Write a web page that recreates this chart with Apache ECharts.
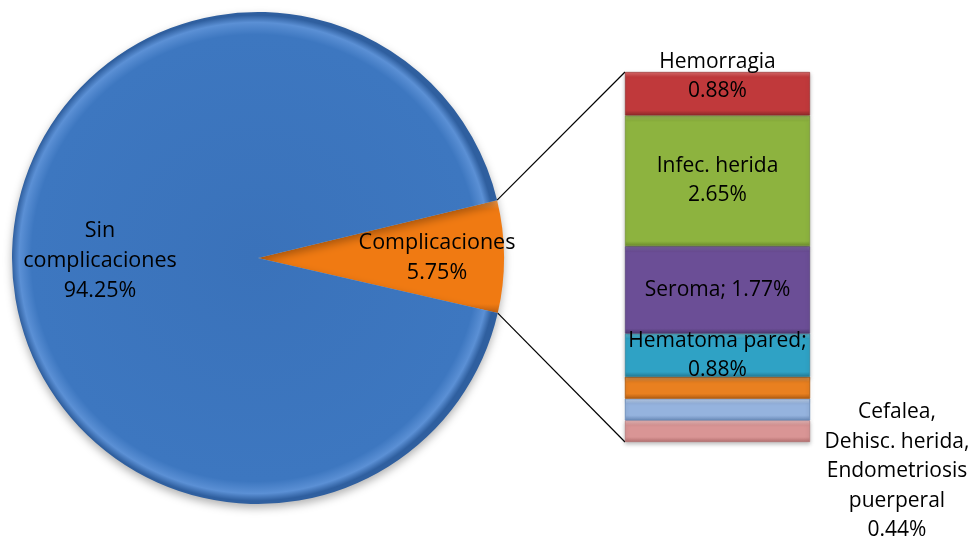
<!DOCTYPE html>
<html>
<head>
<meta charset="utf-8">
<script src="https://cdn.jsdelivr.net/npm/echarts@6/dist/echarts.min.js"></script>
<style>
  html, body { margin: 0; padding: 0; background: #fff; }
  #chart { width: 975px; height: 545px; }
</style>
</head>
<body>
<div id="chart"></div>
<script>
// pie values (%), as labelled
var pieNames = ['Complicaciones', 'Sin complicaciones'];
var pieLabels = ['Complicaciones\n5.75%', 'Sin\ncomplicaciones\n94.25%'];
var piePct = [5.75, 94.25];

// bar breakdown, top to bottom
var barNames = ['Hemorragia', 'Infec. herida', 'Seroma', 'Hematoma pared', 'Cefalea', 'Dehisc. herida', 'Endometriosis puerperal'];
var barPct = [0.88, 2.65, 1.77, 0.88, 0.44, 0.44, 0.44];
var barLabels = ['Hemorragia\n0.88%', 'Infec. herida\n2.65%', 'Seroma; 1.77%', 'Hematoma pared;\n0.88%', '', '', 'Cefalea,\nDehisc. herida,\nEndometriosis\npuerperal\n0.44%'];

// layout
var cx = 258, cy = 258, R = 246;
var gLeft = 625, gTop = 72, gW = 185, gH = 370;
var startAng = 13.6;
var font = 'Open Sans';

var barColors = [
    ['#D86A6A', '#C0393B', '#8E2A2A'],
    ['#AFCF6A', '#8DB33F', '#6B8A2C'],
    ['#9278BB', '#6B4E96', '#4E3870'],
    ['#6CCBE4', '#2FA2C5', '#227A95'],
    ['#F4A55A', '#E98020', '#B45F14'],
    ['#C5D8F2', '#95B3DE', '#6D8DBB'],
    ['#EDBDBD', '#D99595', '#B36F6F']
];

var total = 0;
for (var i = 0; i < barPct.length; i++) total += barPct[i];

function bevel(c, h) {
    var e = Math.min(0.3, 5 / h);
    return {
        type: 'linear', x: 0, y: 0, x2: 0, y2: 1,
        colorStops: [
            {offset: 0, color: c[0]},
            {offset: e, color: c[1]},
            {offset: 1 - e, color: c[1]},
            {offset: 1, color: c[2]}
        ]
    };
}

var series = [];
// pie: the "Complicaciones" slice is drawn as the sum of the bar items (as in the source)
series.push({
    type: 'pie',
    center: [cx, cy],
    radius: [0, R],
    startAngle: startAng,
    clockwise: true,
    animation: false,
    silent: true,
    data: [
        {
            name: pieNames[0], value: total,
            itemStyle: {
                color: {type: 'linear', x: 0, y: 0, x2: 0, y2: 1, colorStops: [
                    {offset: 0, color: '#F6A050'}, {offset: 0.08, color: '#F07A12'},
                    {offset: 0.92, color: '#F07A12'}, {offset: 1, color: '#C06010'}]}
            },
            label: {formatter: pieLabels[0]}
        },
        {
            name: pieNames[1], value: piePct[1],
            itemStyle: {
                color: {type: 'radial', x: 0.5, y: 0.5, r: 0.5, colorStops: [
                    {offset: 0, color: '#3A72BA'}, {offset: 0.92, color: '#3D77C0'},
                    {offset: 0.97, color: '#5B90D5'}, {offset: 1, color: '#2F5F9F'}]}
            },
            label: {formatter: pieLabels[1]}
        }
    ],
    itemStyle: {
        borderWidth: 0,
        shadowBlur: 8, shadowOffsetY: 4, shadowColor: 'rgba(0,0,0,0.3)'
    },
    label: {
        show: true, position: 'inside',
        color: '#000', fontFamily: font, fontSize: 21.5, lineHeight: 30, align: 'center'
    },
    labelLine: {show: false},
    labelLayout: function (p) {
        return p.dataIndex === 0 ? {dx: 26.5, dy: 0.5} : {dx: -16, dy: 1};
    }
});

// stacked bar, bottom item first
for (var j = barPct.length - 1; j >= 0; j--) {
    var h = barPct[j] / total * gH;
    var lab = {
        show: barLabels[j] !== '',
        formatter: barLabels[j],
        position: 'inside',
        color: '#000', fontFamily: font, fontSize: 21, lineHeight: 29, align: 'center'
    };
    if (j === 0) lab.offset = [0, -17];
    if (j === barPct.length - 1) {
        lab.position = ['100%', '50%'];
        lab.verticalAlign = 'middle';
        lab.offset = [87, 40];
        lab.lineHeight = 29.5;
    }
    series.push({
        type: 'bar',
        name: barNames[j],
        stack: 'comp',
        barWidth: '100%',
        animation: false,
        silent: true,
        data: [barPct[j]],
        itemStyle: {
            color: bevel(barColors[j], h),
            borderColor: barColors[j][2], borderWidth: 0.6,
            shadowBlur: 4, shadowOffsetY: 2, shadowColor: 'rgba(0,0,0,0.25)'
        },
        label: lab
    });
}

var chart = echarts.init(document.getElementById('chart'));
chart.setOption({
    backgroundColor: '#fff',
    animation: false,
    grid: {left: gLeft, top: gTop, width: gW, height: gH, containLabel: false},
    xAxis: {type: 'category', data: [''], show: false},
    yAxis: {type: 'value', min: 0, max: total, show: false},
    series: series
});

// connector lines from the slice edges to the bar corners
var a1 = startAng * Math.PI / 180;
var a2 = (startAng - total / (total + piePct[1]) * 360) * Math.PI / 180;
var topY = chart.convertToPixel({yAxisIndex: 0}, total);
var botY = chart.convertToPixel({yAxisIndex: 0}, 0);
chart.setOption({
    graphic: [
        {type: 'line', silent: true, shape: {x1: cx + R * Math.cos(a1), y1: cy - R * Math.sin(a1), x2: gLeft, y2: topY},
            style: {stroke: '#000', lineWidth: 1.2}},
        {type: 'line', silent: true, shape: {x1: cx + R * Math.cos(a2), y1: cy - R * Math.sin(a2), x2: gLeft, y2: botY},
            style: {stroke: '#000', lineWidth: 1.2}}
    ]
});
</script>
</body>
</html>
